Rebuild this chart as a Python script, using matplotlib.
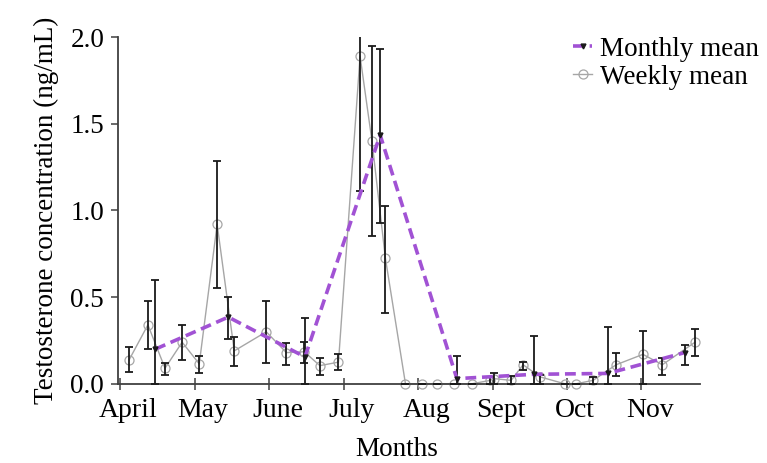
import numpy as np
import matplotlib
matplotlib.use("Agg")
import matplotlib.pyplot as plt

plt.rcParams["font.family"] = ["Liberation Serif", "DejaVu Serif"]

months = ["April", "May", "June", "July", "Aug", "Sept", "Oct", "Nov"]

# weekly sampling positions (in months from start of April)
weekly_x = [0.12, 0.37, 0.60, 0.83, 1.06, 1.30, 1.53, 1.96, 2.23, 2.47, 2.68,
            2.93, 3.22, 3.38, 3.56, 3.83, 4.05, 4.26, 4.48, 4.72, 4.97, 5.02,
            5.25, 5.41, 5.64, 5.97, 6.12, 6.35, 6.66, 7.02, 7.28, 7.72]
weekly_mean = [0.14, 0.34, 0.09, 0.24, 0.115, 0.92, 0.19, 0.30, 0.18, 0.185,
               0.105, 0.125, 1.89, 1.40, 0.725, 0.0, 0.0, 0.0, 0.0, 0.0, 0.02,
               0.03, 0.02, 0.11, 0.04, 0.0, 0.0, 0.02, 0.11, 0.17, 0.11, 0.24]
weekly_hi = [0.21, 0.48, 0.12, 0.34, 0.16, 1.285, 0.27, 0.48, 0.235, 0.24,
             0.15, 0.17, 2.67, 1.95, 1.025, 0.0, 0.0, 0.0, 0.0, 0.0, 0.04,
             0.06, 0.045, 0.125, 0.05, 0.0, 0.0, 0.04, 0.18, 0.305, 0.15, 0.315]
weekly_lo = [0.07, 0.20, 0.05, 0.14, 0.06, 0.55, 0.10, 0.12, 0.11, 0.12,
             0.05, 0.08, 1.11, 0.85, 0.41, 0.0, 0.0, 0.0, 0.0, 0.0, 0.0,
             0.0, 0.0, 0.08, 0.0, 0.0, 0.0, 0.0, 0.045, 0.0, 0.05, 0.16]

monthly_x = [0.47, 1.45, 2.48, 3.49, 4.52, 5.56, 6.55, 7.58]
monthly_mean = [0.20, 0.385, 0.155, 1.435, 0.03, 0.055, 0.06, 0.18]
monthly_hi = [0.60, 0.50, 0.38, 1.93, 0.16, 0.275, 0.33, 0.225]
monthly_lo = [0.0, 0.26, 0.0, 0.93, 0.0, 0.0, 0.0, 0.11]

fig = plt.figure(figsize=(7.67, 4.63), dpi=100)
ax = fig.add_axes([0.154, 0.171, 0.759, 0.749])

wm = np.array(weekly_mean)
w_err = [wm - np.array(weekly_lo), np.array(weekly_hi) - wm]
mm = np.array(monthly_mean)
m_err = [mm - np.array(monthly_lo), np.array(monthly_hi) - mm]

# weekly series
ax.plot(weekly_x, weekly_mean, color="#a6a6a6", lw=1.0, marker="o",
        markersize=6.5, markerfacecolor="none", markeredgecolor="#a6a6a6",
        markeredgewidth=0.9, clip_on=False, zorder=2, label="Weekly mean")
ax.errorbar(weekly_x, weekly_mean, yerr=w_err, fmt="none", ecolor="#1a1a1a",
            elinewidth=1.3, capsize=3, capthick=1.3, zorder=3)

# monthly series
ax.errorbar(monthly_x, monthly_mean, yerr=m_err, fmt="none", ecolor="#1a1a1a",
            elinewidth=1.3, capsize=3, capthick=1.3, zorder=3)
ax.plot(monthly_x, monthly_mean, color="#a152d4", lw=2.6, ls=(0, (3, 1.6)),
        marker="v", markersize=3.5, markerfacecolor="#1a1a1a",
        markeredgecolor="#1a1a1a", clip_on=False, zorder=4,
        label="Monthly mean")

ax.set_xlim(-0.03, 7.79)
ax.set_ylim(0, 2.0)
ax.set_yticks([0.0, 0.5, 1.0, 1.5, 2.0])
ax.set_yticklabels(["0.0", "0.5", "1.0", "1.5", "2.0"])

# tick marks at month starts, labels set a little to the right
ax.set_xticks(np.arange(len(months)), minor=True)
ax.set_xticks(np.arange(len(months)) + 0.11)
ax.set_xticklabels(months)

for side in ["top", "right"]:
    ax.spines[side].set_visible(False)
for side in ["left", "bottom"]:
    ax.spines[side].set_color("#404040")
    ax.spines[side].set_linewidth(1.3)

ax.tick_params(axis="x", which="major", length=0, labelsize=20, pad=10)
ax.tick_params(axis="x", which="minor", direction="inout", length=8,
               width=1.1, color="#404040")
ax.tick_params(axis="y", direction="out", length=5, width=1.1,
               color="#404040", labelsize=19.5, pad=5)

ax.set_xlabel("Months", fontsize=19.5, va="top")
ax.xaxis.set_label_coords(0.478, -0.153)
ax.set_ylabel("Testosterone concentration (ng/mL)", fontsize=19.5, labelpad=8)

handles, labels = ax.get_legend_handles_labels()
fig.legend(handles[::-1], labels[::-1], loc="upper right",
           bbox_to_anchor=(0.997, 0.932), frameon=False, fontsize=19.5,
           handlelength=0.7, handletextpad=0.3, labelspacing=0.1,
           borderaxespad=0.0, borderpad=0.2)

fig.savefig("out.png", dpi=100)
